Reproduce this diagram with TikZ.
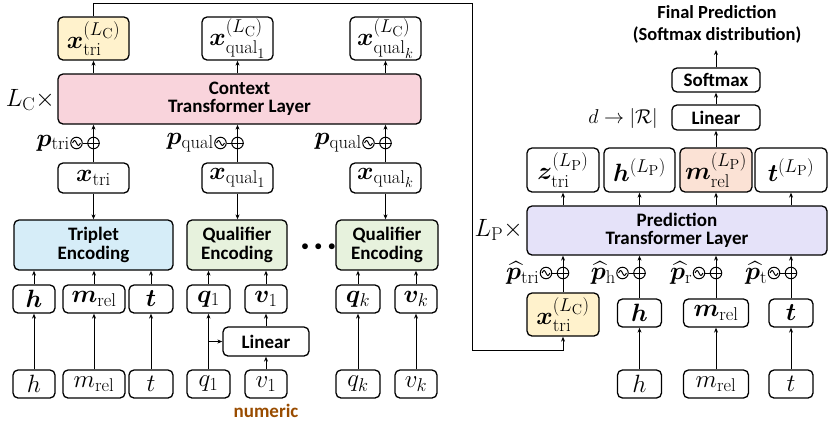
\documentclass[tikz,border=0pt]{standalone}
\usepackage{fix-cm}
\usepackage{amsmath,bm}
\usepackage{fontspec}
\newfontfamily\lbl{Carlito}
\usetikzlibrary{arrows.meta}
\DeclareMathSizes{25}{25}{18.5}{14.5}
\DeclareMathSizes{20}{20}{15}{12}
\definecolor{cyel}{RGB}{255,242,204}
\definecolor{cpink}{RGB}{249,212,220}
\definecolor{cblue}{RGB}{214,237,248}
\definecolor{cgreen}{RGB}{231,242,221}
\definecolor{cpurp}{RGB}{229,226,249}
\definecolor{cpeach}{RGB}{251,226,213}
\definecolor{cbrown}{RGB}{153,76,0}
\tikzset{
  box/.style={draw, line width=1.3pt, rounded corners=5pt, inner sep=0pt, align=center},
  arr/.style={-{Stealth[length=5pt,width=4pt]}, line width=1pt},
  ln/.style={line width=1pt},
  lbf/.style={font=\lbl\bfseries\fontsize{19}{18.5}\selectfont},
  mf/.style={font=\fontsize{25}{27}\selectfont},
  mfs/.style={font=\fontsize{20}{22}\selectfont},
  circ/.style={circle, draw, line width=1pt, minimum size=11.5pt, inner sep=0pt},
}
\newcommand\penc[4]{%
  \node[circ] (#1p) at (#2,#3) {};
  \node[circ, xshift=-17pt] (#1s) at (#2,#3) {};
  \draw[ln] (#1p.west) -- (#1p.east);
  \draw[ln] (#1s.east) -- (#1p.west);
  \draw[ln, shift={(#1s.center)}] plot[domain=-1:1, smooth, samples=17] ({3.9*\x},{2.4*sin(180*\x)});
  \node[mf, anchor=east, inner sep=0.3pt] (#1l) at (#1s.west) {$#4$};
}
\begin{document}
\begin{tikzpicture}[x=1pt, y=-1pt]
\useasboundingbox (0,0) rectangle (830,424);

% ---------- left: context ----------
\node[box, fill=cyel, minimum width=71pt, minimum height=43pt, mf] (xtriC) at (93.5,38.5) {$\bm{x}_{\mathrm{tri}}^{(L_{\mathrm{C}})}$};
\node[box, minimum width=71pt, minimum height=43pt, mf] (xqoC) at (237.5,38.5) {$\bm{x}_{\mathrm{qual}_1}^{(L_{\mathrm{C}})}$};
\node[box, minimum width=71pt, minimum height=43pt, mf] (xqkC) at (385.5,38.5) {$\bm{x}_{\mathrm{qual}_k}^{(L_{\mathrm{C}})}$};

\node[box, fill=cpink, minimum width=363pt, minimum height=50pt, lbf] (ctx) at (239.5,99) {Context\\Transformer Layer};
\node[mf, anchor=east, inner sep=1pt] (LC) at (56,100) {$L_{\mathrm{C}}\times$};

\node[box, minimum width=71pt, minimum height=30pt, mf] (xtri) at (93.5,178) {$\bm{x}_{\mathrm{tri}}$};
\node[box, minimum width=71pt, minimum height=30pt, mf] (xqo) at (237.5,178) {$\bm{x}_{\mathrm{qual}_1}$};
\node[box, minimum width=71pt, minimum height=30pt, mf] (xqk) at (385.5,178) {$\bm{x}_{\mathrm{qual}_k}$};

\node[box, fill=cblue, minimum width=159pt, minimum height=50pt, lbf] (trip) at (93.5,245) {Triplet\\Encoding};
\node[box, fill=cgreen, minimum width=100pt, minimum height=50pt, lbf] (qeo) at (237,245) {Qualifier\\Encoding};
\node[box, fill=cgreen, minimum width=102pt, minimum height=50pt, lbf] (qek) at (387,245) {Qualifier\\Encoding};
\node[font=\fontsize{15}{15}\selectfont] (dots) at (318.5,247) {$\bullet\,\bullet\,\bullet$};

\node[box, minimum width=42pt, minimum height=28pt, mf] (hb) at (34,299) {$\bm{h}$};
\node[box, minimum width=62pt, minimum height=28pt, mf] (mb) at (94,299) {$\bm{m}_{\mathrm{rel}}$};
\node[box, minimum width=44pt, minimum height=28pt, mf] (tb) at (151,299) {$\bm{t}$};
\node[box, minimum width=43pt, minimum height=28pt, mf] (qob) at (208.5,299) {$\bm{q}_1$};
\node[box, minimum width=42pt, minimum height=28pt, mf] (vob) at (266,299) {$\bm{v}_1$};
\node[box, minimum width=44pt, minimum height=28pt, mf] (qkb) at (358,299) {$\bm{q}_k$};
\node[box, minimum width=42pt, minimum height=28pt, mf] (vkb) at (416,299) {$\bm{v}_k$};

\node[box, minimum width=86pt, minimum height=29pt, lbf] (lin) at (266,341.5) {Linear};

\node[box, minimum width=42pt, minimum height=28pt, mf] (hr) at (34,384) {$h$};
\node[box, minimum width=62pt, minimum height=28pt, mf] (mr) at (94,384) {$m_{\mathrm{rel}}$};
\node[box, minimum width=44pt, minimum height=28pt, mf] (tr) at (151,384) {$t$};
\node[box, minimum width=43pt, minimum height=28pt, mf] (qor) at (208.5,384) {$q_1$};
\node[box, minimum width=42pt, minimum height=28pt, mf] (vor) at (266,384) {$v_1$};
\node[box, minimum width=44pt, minimum height=28pt, mf] (qkr) at (358,384) {$q_k$};
\node[box, minimum width=42pt, minimum height=28pt, mf] (vkr) at (416,384) {$v_k$};
\node[lbf, text=cbrown] (num) at (266,411) {numeric};

% positional encodings (left)
\penc{pa}{93.5}{143}{\bm{p}_{\mathrm{tri}}}
\penc{pb}{237.5}{143}{\bm{p}_{\mathrm{qual}}}
\penc{pc}{385.5}{143}{\bm{p}_{\mathrm{qual}}}

% arrows left
\foreach \a/\b in {xtri/ctx, xqo/ctx, xqk/ctx}
  \draw[arr] (\a.north) -- (\a.north |- \b.south);
\foreach \a in {xtriC, xqoC, xqkC}
  \draw[arr] (\a.south |- ctx.north) -- (\a.south);
\draw[arr] (xtri.south) -- (xtri.south |- trip.north);
\draw[arr] (xqo.south) -- (xqo.south |- qeo.north);
\draw[arr] (xqk.south) -- (xqk.south |- qek.north);
\draw[arr] (hb.north) -- (hb.north |- trip.south);
\draw[arr] (mb.north) -- (mb.north |- trip.south);
\draw[arr] (tb.north) -- (tb.north |- trip.south);
\draw[arr] (qob.north) -- (qob.north |- qeo.south);
\draw[arr] (vob.north) -- (vob.north |- qeo.south);
\draw[arr] (qkb.north) -- (qkb.north |- qek.south);
\draw[arr] (vkb.north) -- (vkb.north |- qek.south);
\draw[arr] (hr) -- (hb);
\draw[arr] (mr) -- (mb);
\draw[arr] (tr) -- (tb);
\draw[arr] (qor) -- (qob);
\draw[arr] (qkr) -- (qkb);
\draw[arr] (vkr) -- (vkb);
\draw[arr] (vor) -- (lin);
\draw[arr] (lin) -- (vob);
\draw[arr] (qor.north |- lin.west) -- (lin.west);

% ---------- right: prediction ----------
\node[align=center, font=\lbl\bfseries\fontsize{18.5}{22}\selectfont] (fin) at (717,24) {Final Prediction\\(Softmax distribution)};
\node[box, minimum width=88pt, minimum height=24pt, lbf] (sm) at (716,80) {Softmax};
\node[box, minimum width=88pt, minimum height=25pt, lbf] (lin2) at (716,117.5) {Linear};
\node[mfs] (dR) at (623,118) {$d\rightarrow|\mathcal{R}|$};

\node[box, minimum width=72pt, minimum height=44pt, mf] (zt) at (563,170) {$\bm{z}_{\mathrm{tri}}^{(L_{\mathrm{P}})}$};
\node[box, minimum width=71pt, minimum height=44pt, mf] (hP) at (639.5,170) {$\bm{h}^{(L_{\mathrm{P}})}$};
\node[box, fill=cpeach, minimum width=72pt, minimum height=44pt, mf] (mP) at (716,170) {$\bm{m}_{\mathrm{rel}}^{(L_{\mathrm{P}})}$};
\node[box, minimum width=72pt, minimum height=44pt, mf] (tP) at (791,170) {$\bm{t}^{(L_{\mathrm{P}})}$};

\node[box, fill=cpurp, minimum width=300pt, minimum height=49pt, lbf] (pred) at (677,230.5) {Prediction\\Transformer Layer};
\node[mf, anchor=east, inner sep=1pt] (LP) at (524,230) {$L_{\mathrm{P}}\times$};

\node[box, fill=cyel, minimum width=72pt, minimum height=43pt, mf] (xtriD) at (563,314.5) {$\bm{x}_{\mathrm{tri}}^{(L_{\mathrm{C}})}$};
\node[box, minimum width=44pt, minimum height=28pt, mf] (h2) at (639.5,313) {$\bm{h}$};
\node[box, minimum width=65pt, minimum height=28pt, mf] (m2) at (716,313) {$\bm{m}_{\mathrm{rel}}$};
\node[box, minimum width=44pt, minimum height=28pt, mf] (t2) at (791,313) {$\bm{t}$};
\node[box, minimum width=44pt, minimum height=28pt, mf] (h3) at (639.5,384) {$h$};
\node[box, minimum width=65pt, minimum height=28pt, mf] (m3) at (716,384) {$m_{\mathrm{rel}}$};
\node[box, minimum width=44pt, minimum height=28pt, mf] (t3) at (791,384) {$t$};

\penc{qa}{563}{273}{\widehat{\bm{p}}_{\mathrm{tri}}}
\penc{qb}{639.5}{273}{\widehat{\bm{p}}_{\mathrm{h}}}
\penc{qc}{716}{273}{\widehat{\bm{p}}_{\mathrm{r}}}
\penc{qd}{791}{273}{\widehat{\bm{p}}_{\mathrm{t}}}

\foreach \a in {xtriD, h2, m2, t2}
  \draw[arr] (\a.north) -- (\a.north |- pred.south);
\foreach \a in {zt, hP, mP, tP}
  \draw[arr] (\a.south |- pred.north) -- (\a.south);
\draw[arr] (h3) -- (h2);
\draw[arr] (m3) -- (m2);
\draw[arr] (t3) -- (t2);
\draw[arr] (mP) -- (lin2);
\draw[arr] (lin2) -- (sm);
\coordinate (top) at (716,50);
\draw[arr] (sm) -- (top);

% connecting wire
\coordinate (w1) at (93.5,3);
\coordinate (w2) at (472,3);
\coordinate (w3) at (472,350);
\draw[arr] (xtriC.north) -- (w1) -- (w2) -- (w3) -| (xtriD.south);
\end{tikzpicture}
\end{document}
